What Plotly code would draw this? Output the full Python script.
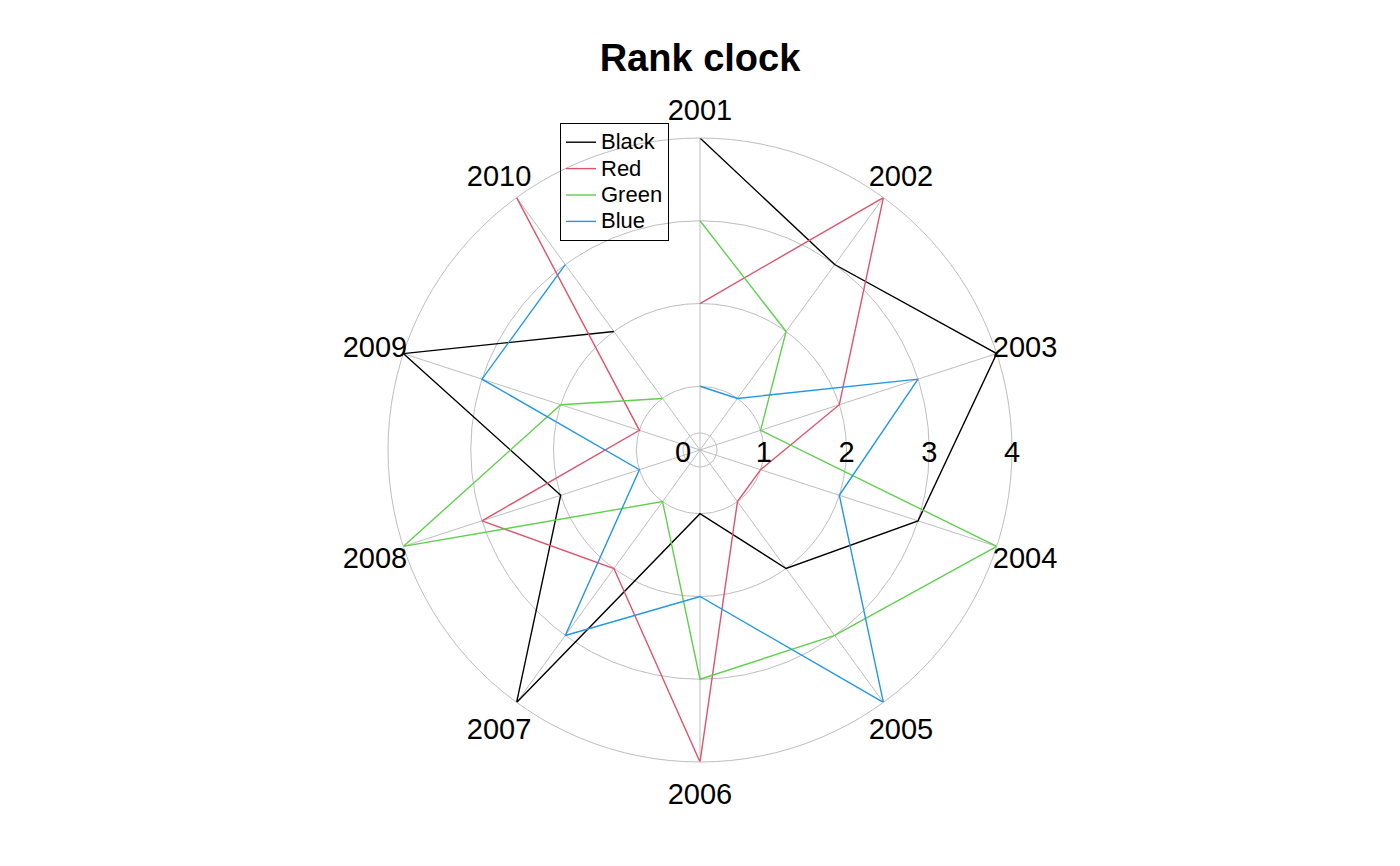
import plotly.graph_objects as go

years = ["2001", "2002", "2003", "2004", "2005", "2006", "2007", "2008", "2009", "2010"]
black = [4, 3, 4, 3, 2, 1, 4, 2, 4, 2]
red = [2, 4, 2, 1, 1, 4, 2, 3, 1, 4]
green = [3, 2, 1, 4, 3, 3, 1, 4, 2, 1]
blue = [1, 1, 3, 2, 4, 2, 3, 1, 3, 3]
series_names = ["Black", "Red", "Green", "Blue"]
series_colors = ["#000000", "#DF536B", "#61D04F", "#2297E6"]
radial_ticks = [1, 2, 3, 4]
radial_lim = [0.23, 4]
label_r = 4.36  # radius where the year labels sit

W, H = 1400, 866
cx, cy, R = 700, 450, 312
TEXT_DY = 5  # text baseline correction (px, downward)
px_per_unit = R / (radial_lim[1] - radial_lim[0])


def dom(radius, dy=0):
    c = cy + dy
    return dict(x=[(cx - radius) / W, (cx + radius) / W],
                y=[(H - c - radius) / H, (H - c + radius) / H])


R_lab = 372  # larger frame used only to place the year labels
lab_range = [radial_lim[0], radial_lim[0] + R_lab / px_per_unit]

FONT = "Liberation Sans, Arial, Helvetica, sans-serif"
GRID = "#BEBEBE"
LABEL_FONT = dict(size=29, family=FONT, color="black")

fig = go.Figure()

# ring for the zero level (zero lies inside the centre)
fig.add_trace(go.Scatterpolar(r=[], theta=[], mode="lines", subplot="polar", showlegend=False,
                              hoverinfo="skip"))

for name, vals, col in zip(series_names, [black, red, green, blue], series_colors):
    fig.add_trace(go.Scatterpolar(
        r=vals, theta=years, mode="lines",
        name=f"<span style='font-size:22px'>{name}</span>",
        line=dict(color=col, width=1.4), subplot="polar2",
    ))

# radial tick labels, centred on the radius they mark
fig.add_trace(go.Scatterpolar(r=radial_ticks, theta=[0] * len(radial_ticks), mode="text",
                              text=[str(t) for t in radial_ticks], textposition="middle center",
                              textfont=LABEL_FONT, subplot="polar3", showlegend=False,
                              hoverinfo="skip", cliponaxis=False))

# year labels around the clock
fig.add_trace(go.Scatterpolar(r=[label_r] * len(years), theta=years, mode="text", text=years,
                              textposition="middle center", textfont=LABEL_FONT, subplot="polar4",
                              showlegend=False, hoverinfo="skip", cliponaxis=False))

# "0" label
fig.add_trace(go.Scatterpolar(r=[0], theta=[180], mode="text", text=["0"], textposition="middle center",
                              textfont=LABEL_FONT, subplot="polar5", showlegend=False, hoverinfo="skip",
                              cliponaxis=False))

hidden_ang = dict(showgrid=False, showticklabels=False, showline=False, ticks="")
hidden_rad = dict(showgrid=False, showticklabels=False, showline=False, ticks="")
zero_range = [-radial_lim[0], radial_lim[1]]

fig.update_layout(
    width=W, height=H,
    paper_bgcolor="white", plot_bgcolor="white",
    margin=dict(l=0, r=0, t=0, b=0),
    font=dict(family=FONT, color="black"),
    title=dict(text="<b>Rank clock</b>", x=0.5, xanchor="center", y=1 - 58 / H, yanchor="middle",
               font=dict(size=38, family=FONT, color="black")),
    polar=dict(
        domain=dom(R),
        bgcolor="white",
        radialaxis=dict(range=zero_range, tickvals=[0], showticklabels=False,
                        showline=False, ticks="", gridcolor=GRID, gridwidth=1),
        angularaxis=hidden_ang,
    ),
    polar2=dict(
        domain=dom(R),
        bgcolor="rgba(0,0,0,0)",
        radialaxis=dict(range=radial_lim, tickvals=radial_ticks, angle=0, showticklabels=False,
                        showline=False, ticks="", gridcolor=GRID, gridwidth=1),
        angularaxis=dict(type="category", categoryarray=years, direction="clockwise", rotation=90,
                         showline=True, linecolor=GRID, linewidth=1, ticks="", showticklabels=False,
                         gridcolor=GRID, gridwidth=1),
    ),
    polar3=dict(
        domain=dom(R, TEXT_DY),
        bgcolor="rgba(0,0,0,0)",
        radialaxis=dict(range=radial_lim, **hidden_rad),
        angularaxis=hidden_ang,
    ),
    polar4=dict(
        domain=dom(R_lab, TEXT_DY),
        bgcolor="rgba(0,0,0,0)",
        radialaxis=dict(range=lab_range, **hidden_rad),
        angularaxis=dict(type="category", categoryarray=years, direction="clockwise", rotation=90,
                         **hidden_ang),
    ),
    polar5=dict(
        domain=dom(R, TEXT_DY),
        bgcolor="rgba(0,0,0,0)",
        radialaxis=dict(range=zero_range, **hidden_rad),
        angularaxis=hidden_ang,
    ),
    legend=dict(x=560 / W, y=1 - 123 / H, xanchor="left", yanchor="top",
                bordercolor="black", borderwidth=1, bgcolor="rgba(255,255,255,0)",
                font=dict(size=18, family=FONT, color="black"), tracegroupgap=0),
)

fig.write_html("out.html", config={"displayModeBar": False},
               post_script="document.body.style.margin='0px';")
